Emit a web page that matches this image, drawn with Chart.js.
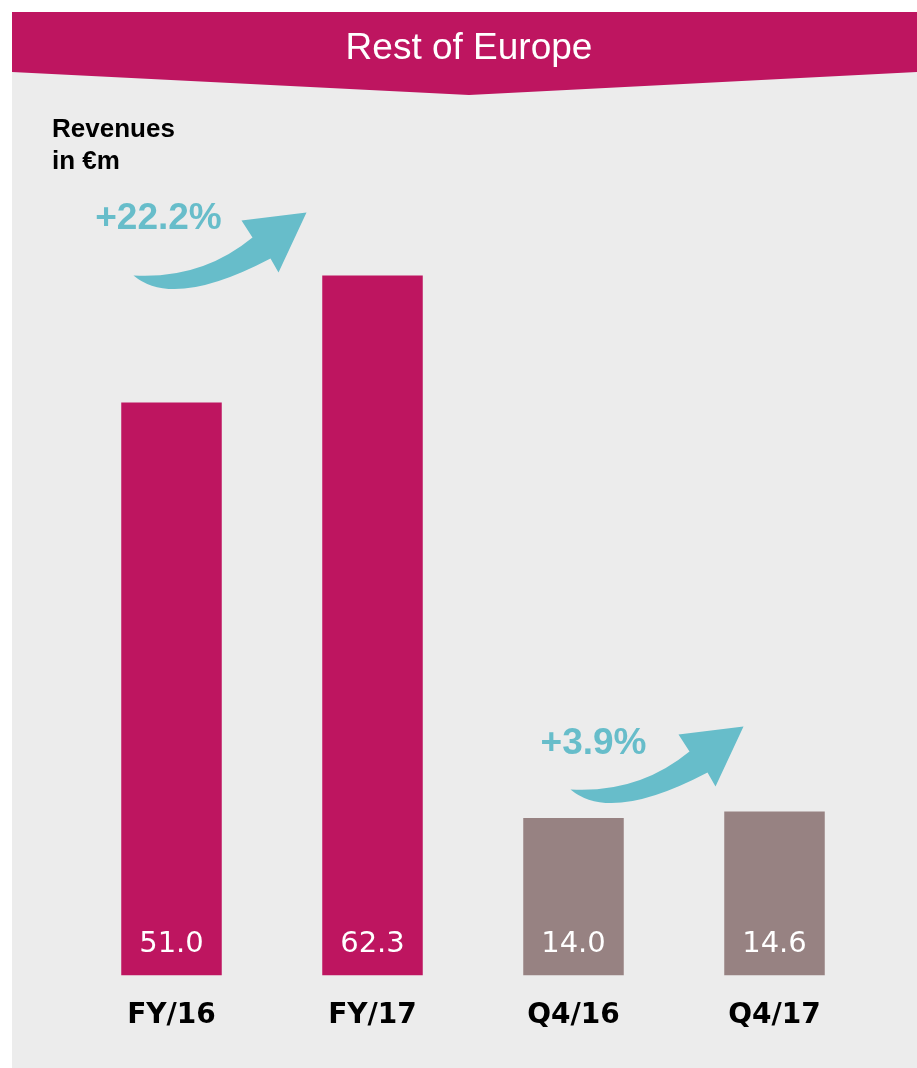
<!DOCTYPE html>
<html>
<head>
<meta charset="utf-8">
<title>Rest of Europe</title>
<script src="https://cdn.jsdelivr.net/npm/chart.js@4"></script>
<style>
  html, body { margin: 0; padding: 0; background: #fff; }
  #wrap { width: 917px; height: 1068px; }
</style>
</head>
<body>
<div id="wrap"><canvas id="revChart" width="917" height="1068"></canvas></div>
<script>
// revenue figures, Rest of Europe segment
const categories = ['FY/16', 'FY/17', 'Q4/16', 'Q4/17'];
const revenues = [51.0, 62.3, 14.0, 14.6];
const growthLabels = ['+22.2%', '+3.9%'];
const headline = 'Rest of Europe';
const unitLabel = ['Revenues', 'in €m'];

const MAGENTA = '#BE1560';
const MAUVE = '#978282';
const TEAL = '#67BDCA';
const PANEL = '#ECECEC';

// growth arrows: tail hangs off the first bar of the pair, height off the second
const arrows = [
  { pair: [0, 1], label: growthLabels[0], dx: -38, dy: 0, lx: 25, ly: -57 },
  { pair: [2, 3], label: growthLabels[1], dx: -3, dy: -22, lx: 23, ly: -46 }
];

function drawArrow(ctx, x, y) {
  ctx.beginPath();
  ctx.moveTo(x, y);
  ctx.quadraticCurveTo(x + 68, y + 4, x + 119, y - 38);
  ctx.lineTo(x + 108, y - 55);
  ctx.lineTo(x + 173, y - 63);
  ctx.lineTo(x + 145, y - 3);
  ctx.lineTo(x + 137, y - 17);
  ctx.quadraticCurveTo(x + 40, y + 34, x, y);
  ctx.closePath();
  ctx.fill();
}

const decor = {
  id: 'decor',
  beforeDraw(chart) {
    const { ctx, width: W, height: H } = chart;
    ctx.save();
    ctx.fillStyle = '#fff';
    ctx.fillRect(0, 0, W, H);
    ctx.fillStyle = PANEL;
    ctx.fillRect(12, 12, W - 12, H - 12);

    // banner with a shallow point at the bottom
    ctx.fillStyle = MAGENTA;
    ctx.beginPath();
    ctx.moveTo(12, 12);
    ctx.lineTo(W, 12);
    ctx.lineTo(W, 72);
    ctx.lineTo(469, 95);
    ctx.lineTo(12, 72);
    ctx.closePath();
    ctx.fill();

    ctx.fillStyle = '#fff';
    ctx.font = '37px "Liberation Sans", Arial, sans-serif';
    ctx.textAlign = 'center';
    ctx.textBaseline = 'middle';
    ctx.fillText(headline, 469, 49);

    ctx.fillStyle = '#000';
    ctx.font = 'bold 26px "Liberation Sans", Arial, sans-serif';
    ctx.textAlign = 'left';
    ctx.fillText(unitLabel[0], 52, 130);
    ctx.fillText(unitLabel[1], 52, 162);
    ctx.restore();
  },
  afterDatasetsDraw(chart) {
    const ctx = chart.ctx;
    const bars = chart.getDatasetMeta(0).data;
    ctx.save();

    // values sit at the foot of each bar
    ctx.fillStyle = '#fff';
    ctx.font = '29px "DejaVu Sans", sans-serif';
    ctx.textAlign = 'center';
    ctx.textBaseline = 'middle';
    bars.forEach((b, i) => {
      ctx.fillText(revenues[i].toFixed(1), b.x, b.base - 31);
    });

    ctx.fillStyle = TEAL;
    ctx.font = 'bold 37px "Liberation Sans", Arial, sans-serif';
    arrows.forEach(a => {
      const x = bars[a.pair[0]].x + a.dx;
      const y = bars[a.pair[1]].y + a.dy;
      drawArrow(ctx, x, y);
      ctx.fillText(a.label, x + a.lx, y + a.ly);
    });
    ctx.restore();
  }
};

new Chart(document.getElementById('revChart'), {
  type: 'bar',
  data: {
    labels: categories,
    datasets: [{
      data: revenues,
      backgroundColor: [MAGENTA, MAGENTA, MAUVE, MAUVE],
      borderWidth: 0,
      categoryPercentage: 0.5,
      barPercentage: 1
    }]
  },
  options: {
    responsive: false,
    animation: false,
    layout: { padding: { top: 189, left: 71, right: 42, bottom: 19 } },
    plugins: { legend: { display: false }, tooltip: { enabled: false } },
    scales: {
      x: {
        grid: { display: false },
        border: { display: false },
        ticks: {
          color: '#000',
          padding: 16,
          font: { family: '"DejaVu Sans", sans-serif', size: 28, weight: 'bold' }
        }
      },
      y: { display: false, min: 0, max: 70 }
    }
  },
  plugins: [decor]
});
</script>
</body>
</html>
